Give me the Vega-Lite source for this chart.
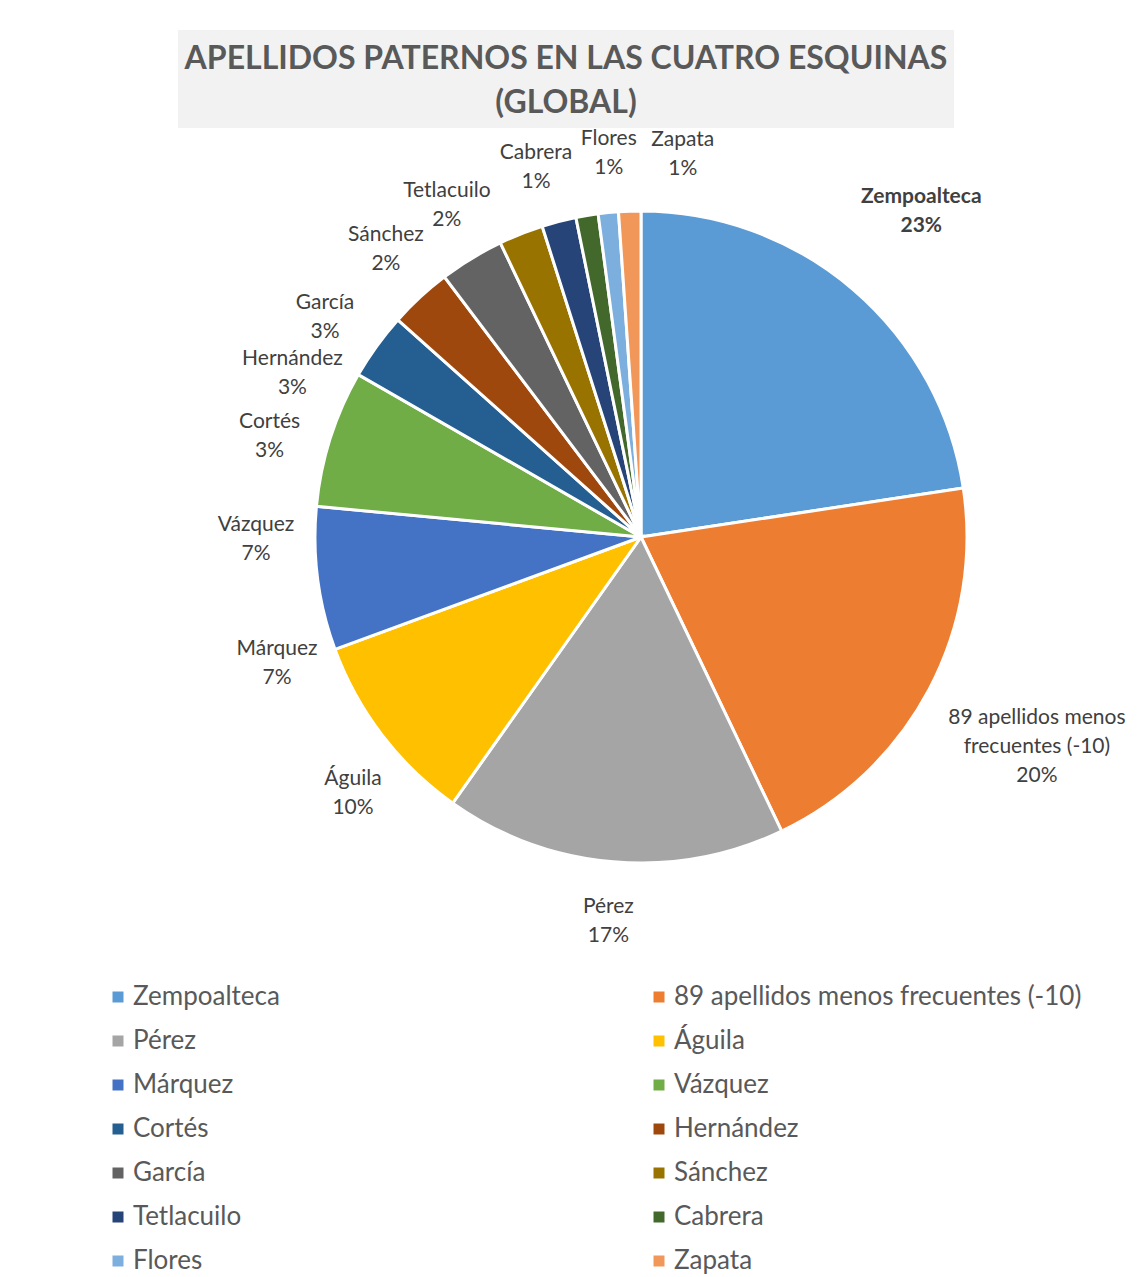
{
  "$schema": "https://vega.github.io/schema/vega-lite/v6.json",
  "background": "white",
  "padding": {"left": 105, "top": 30, "right": 0, "bottom": 0},
  "spacing": 0,
  "bounds": "flush",
  "config": {"view": {"stroke": null}, "font": "Lato"},
  "data": {
    "values": [
      {"apellido": "Zempoalteca", "porcentaje": 22.6, "etiqueta": "Zempoalteca\n23%"},
      {"apellido": "89 apellidos menos frecuentes (-10)", "porcentaje": 20.3, "etiqueta": "89 apellidos menos\nfrecuentes (-10)\n20%"},
      {"apellido": "Pérez", "porcentaje": 16.9, "etiqueta": "Pérez\n17%"},
      {"apellido": "Águila", "porcentaje": 9.6, "etiqueta": "Águila\n10%"},
      {"apellido": "Márquez", "porcentaje": 7.1, "etiqueta": "Márquez\n7%"},
      {"apellido": "Vázquez", "porcentaje": 6.8, "etiqueta": "Vázquez\n7%"},
      {"apellido": "Cortés", "porcentaje": 3.3, "etiqueta": "Cortés\n3%"},
      {"apellido": "Hernández", "porcentaje": 3.1, "etiqueta": "Hernández\n3%"},
      {"apellido": "García", "porcentaje": 3.2, "etiqueta": "García\n3%"},
      {"apellido": "Sánchez", "porcentaje": 2.2, "etiqueta": "Sánchez\n2%"},
      {"apellido": "Tetlacuilo", "porcentaje": 1.7, "etiqueta": "Tetlacuilo\n2%"},
      {"apellido": "Cabrera", "porcentaje": 1.1, "etiqueta": "Cabrera\n1%"},
      {"apellido": "Flores", "porcentaje": 1.0, "etiqueta": "Flores\n1%"},
      {"apellido": "Zapata", "porcentaje": 1.1, "etiqueta": "Zapata\n1%"}
    ]
  },
  "vconcat": [
    {
      "width": 776,
      "height": 98,
      "view": {"fill": "#f2f2f2", "stroke": null},
      "data": {"values": [{}]},
      "mark": {
        "type": "text",
        "text": ["APELLIDOS PATERNOS EN LAS CUATRO ESQUINAS", "(GLOBAL)"],
        "font": "Lato",
        "fontSize": 32,
        "fontWeight": "bold",
        "color": "#595959",
        "lineHeight": 44,
        "dy": -20
      }
    },
    {
      "width": 926,
      "height": 818,
      "transform": [{"window": [{"op": "row_number", "as": "orden"}]}],
      "encoding": {
        "order": {"field": "orden", "type": "quantitative"}
      },
      "layer": [
        {
          "mark": {"type": "arc", "outerRadius": 326, "stroke": "white", "strokeWidth": 3},
          "encoding": {
            "theta": {"field": "porcentaje", "type": "quantitative", "stack": true, "scale": {"domain": [0, 100], "nice": false}},
            "color": {
              "field": "apellido",
              "type": "nominal",
              "sort": null,
              "scale": {"range": ["#5B9BD5", "#ED7D31", "#A5A5A5", "#FFC000", "#4472C4", "#70AD47", "#255E91", "#9E480E", "#636363", "#997300", "#264478", "#43682B", "#7CAFDD", "#F1975A"]},
              "legend": {
                "title": null,
                "orient": "none",
                "legendX": -73,
                "legendY": 954,
                "direction": "horizontal",
                "columns": 2,
                "gridAlign": "each",
                "symbolType": "square",
                "symbolSize": 121,
                "symbolStrokeWidth": 0,
                "labelFont": "Lato",
                "labelFontSize": 26,
                "labelColor": "#595959",
                "labelOffset": 2,
                "labelLimit": 600,
                "columnPadding": 366,
                "rowPadding": 18
              }
            }
          }
        },
        {
          "mark": {"type": "text", "radius": 385, "lineBreak": "\n", "font": "Lato", "fontSize": 21, "color": "#404040", "lineHeight": 29, "dy": -14},
          "encoding": {
            "theta": {"field": "porcentaje", "type": "quantitative", "stack": true, "scale": {"type": "linear", "domain": [0, 60, 80, 92, 96, 100], "range": [0, 3.7699, 4.7124, 5.3582, 5.7596, 6.4926], "zero": false, "nice": false}},
            "detail": {"field": "apellido", "type": "nominal"},
            "text": {"condition": {"test": "datum.apellido !== 'Zempoalteca' && datum.apellido !== '89 apellidos menos frecuentes (-10)'", "field": "etiqueta"}, "value": ""}
          }
        },
        {
          "mark": {"type": "text", "radius": 430, "lineBreak": "\n", "font": "Lato", "fontSize": 21, "fontWeight": "bold", "color": "#404040", "lineHeight": 29, "dy": -14},
          "encoding": {
            "theta": {"field": "porcentaje", "type": "quantitative", "stack": true, "scale": {"type": "linear", "domain": [0, 60, 80, 92, 96, 100], "range": [0, 3.7699, 4.7124, 5.3582, 5.7596, 6.4926], "zero": false, "nice": false}},
            "detail": {"field": "apellido", "type": "nominal"},
            "text": {"condition": {"test": "datum.apellido === 'Zempoalteca'", "field": "etiqueta"}, "value": ""}
          }
        },
        {
          "mark": {"type": "text", "radius": 448, "lineBreak": "\n", "font": "Lato", "fontSize": 21, "color": "#404040", "lineHeight": 29, "dy": -29},
          "encoding": {
            "theta": {"field": "porcentaje", "type": "quantitative", "stack": true, "scale": {"type": "linear", "domain": [0, 60, 80, 92, 96, 100], "range": [0, 3.7699, 4.7124, 5.3582, 5.7596, 6.4926], "zero": false, "nice": false}},
            "detail": {"field": "apellido", "type": "nominal"},
            "text": {"condition": {"test": "datum.apellido === '89 apellidos menos frecuentes (-10)'", "field": "etiqueta"}, "value": ""}
          }
        }
      ],
      "resolve": {"scale": {"theta": "independent"}}
    }
  ]
}
